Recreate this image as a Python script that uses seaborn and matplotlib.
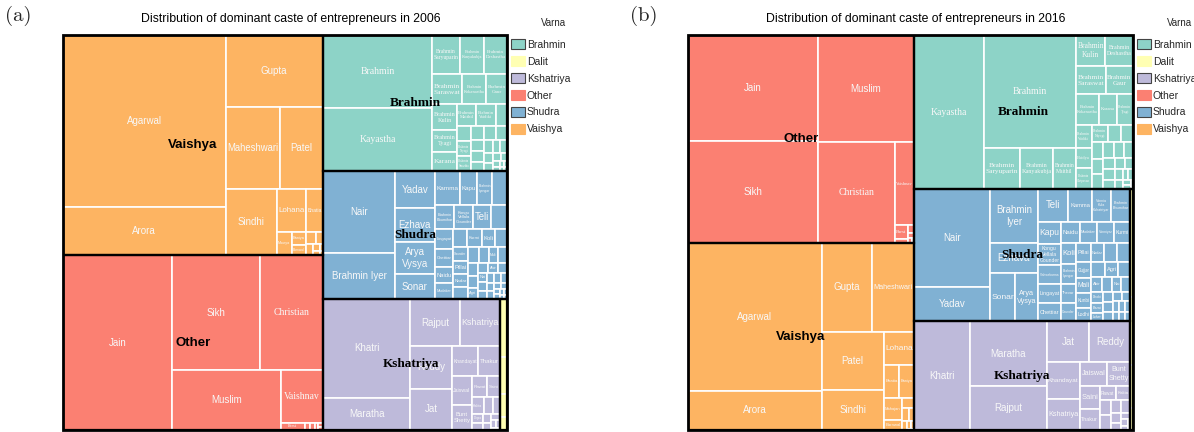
import matplotlib
matplotlib.use("Agg")
import matplotlib.pyplot as plt
import seaborn as sns
from matplotlib.patches import Rectangle, Patch

sns.set_theme(style="white")
plt.rcParams["font.family"] = ["Liberation Sans", "DejaVu Sans"]

# -------------------------------
# Data: entrepreneurs per caste (relative counts)
# -------------------------------
VARNAS = ["Brahmin", "Dalit", "Kshatriya", "Other", "Shudra", "Vaishya"]
YEARS = [2006, 2016]

brahmin_names = ["Brahmin", "Kayastha", "Brahmin Saryuparin", "Brahmin Kanyakubja",
                 "Brahmin Deshastha", "Brahmin Saraswat", "Brahmin Kokanastha", "Brahmin Gaur",
                 "Brahmin Kulin", "Brahmin Tyagi", "Karana", "Brahmin Vaidiki", "Brahmin Maithil",
                 "Baidya", "Brahmin Chitpavan", "Brahmin Niyogi", "Brahmin Smartha", "Brahmin Madhwa",
                 "Brahmin Havyaka", "Brahmin Nagar", "Brahmin Utkal", "Brahmin Dravida",
                 "Brahmin Sanadhya", "Brahmin Audichya", "Brahmin Pushkarna", "Brahmin Mohyal",
                 "Brahmin Bhatt", "Brahmin Goswami", "Brahmin Joshi", "Brahmin Pandit",
                 "Brahmin Sakaldwipi", "Brahmin Shrimali", "Brahmin Dadhich", "Brahmin Gurukkal",
                 "Brahmin Nambudiri", "Brahmin Tuluva"]
brahmin_2006 = [80, 68, 10.9, 9.4, 9.0, 9.0, 7.2, 6.3, 6.2, 5.5, 4.6, 4.0, 4.1,
                2.4, 2.2, 2.1, 2.0, 1.9, 1.8, 1.6, 1.5, 1.4, 1.2, 1.1, 1.0, 0.9, 0.8,
                0.7, 0.6, 0.5, 0.4, 0.3, 0.25, 0.2, 0.15, 0.1]
brahmin_2016 = [100, 105, 14.4, 13.3, 8.4, 8.0, 7.1, 7.3, 9.0, 4.9, 5.2, 3.5, 9.3,
                3.2, 3.2, 2.7, 2.2, 2.0, 1.9, 1.8, 1.7, 1.6, 1.5, 1.4, 1.3, 1.2, 1.1,
                1.0, 0.9, 0.8, 0.7, 0.6, 0.5, 0.4, 0.3, 0.2]

dalit_names = ["Chamar", "Mahar", "Jatav", "Valmiki"]
dalit_2006 = [4.0, 2.6, 1.6, 0.9]
dalit_2016 = [3.0, 1.9, 1.2, 0.6]

kshatriya_names = ["Khatri", "Maratha", "Rajput", "Kshatriya", "Reddy", "Jat", "Khandayat",
                   "Thakur", "Jaiswal", "Bunt Shetty", "Rawat", "Saini", "Kalita", "Chhetri",
                   "Kodava", "Dogra", "Rathore", "Bhati", "Chauhan", "Parmar", "Tomar",
                   "Sisodia", "Raju"]
kshatriya_2006 = [86, 28, 23.5, 18.8, 17.6, 17.2, 7.8, 6.6, 5.6, 5.0, 3.2, 2.7, 2.0, 1.5,
                  1.2, 1.0, 0.8, 0.7, 0.6, 0.5, 0.4, 0.3, 0.2]
kshatriya_2016 = [59.4, 48, 32.2, 10.2, 15.9, 16.8, 12.0, 4.0, 6.4, 5.5, 2.2, 4.3, 1.9, 1.7,
                  1.6, 1.3, 1.1, 0.9, 0.7, 0.6, 0.5, 0.3, 0.2]

other_names = ["Jain", "Sikh", "Christian", "Muslim", "Vaishnav", "Parsi", "Buddhist",
               "Bohra", "Khoja", "Memon", "Jewish"]
other_2006 = [190, 100, 72, 65, 22, 1.7, 0.4, 0.3, 0.25, 0.2, 0.15]
other_2016 = [134, 129, 75, 100, 15.6, 1.8, 0.6, 0.4, 0.3, 0.2, 0.1]

shudra_names = ["Nair", "Brahmin Iyer", "Yadav", "Ezhava", "Arya Vysya", "Sonar", "Kamma",
                "Kapu", "Brahmin Iyengar", "Vannia Kula Kshatriyar", "Brahmin Bhumihar",
                "Kongu Vellala Gounder", "Teli", "Vishwakarma", "Lingayat", "Chettiar", "Naidu",
                "Mudaliar", "Vanniyar", "Kurmi", "Koli", "Thevar", "Gounder", "Pillai", "Nadar",
                "Vokkaliga", "Kushwaha", "Gujjar", "Mali", "Kunbi", "Lodhi", "Ezhuthachan",
                "Agri", "Bhandari", "Ahir", "Kalar", "Nai", "Kumhar", "Dhobi", "Barai", "Lohar",
                "Sutar", "Gadaria", "Kahar", "Tamboli", "Kachhi", "Mallah", "Halwai", "Jogi",
                "Darzi", "Bhoi", "Kamar"]
shudra_2006 = [59, 33, 14.8, 13.3, 12.9, 9.8, 8.6, 5.9, 5.3, 5.0, 4.6, 4.6, 4.1, 3.9,
               3.5, 3.2, 3.0, 2.8, 2.6, 2.5, 2.3, 2.2, 2.1, 2.0, 1.9, 1.8, 1.7, 1.6, 1.5,
               1.4, 1.3, 1.2, 1.1, 1.0, 0.95, 0.9, 0.85, 0.8, 0.75, 0.7, 0.65, 0.6, 0.55,
               0.5, 0.45, 0.4, 0.35, 0.3, 0.25, 0.2, 0.15, 0.1]
shudra_2016 = [72, 25.2, 25.3, 14.2, 10.6, 11.9, 7.4, 4.9, 3.0, 6.2, 6.0, 4.6, 9.6, 4.4,
               4.2, 4.0, 3.8, 3.6, 3.4, 3.3, 3.2, 2.9, 2.8, 2.7, 2.6, 2.5, 2.4, 2.3, 2.2,
               2.1, 2.0, 1.9, 1.8, 1.7, 1.6, 1.5, 1.4, 1.3, 1.2, 1.1, 1.0, 0.95, 0.9, 0.85,
               0.8, 0.75, 0.7, 0.65, 0.6, 0.55, 0.5, 0.45]

vaishya_names = ["Agarwal", "Arora", "Gupta", "Maheshwari", "Patel", "Sindhi", "Lohana",
                 "Bhatia", "Baniya", "Maurya", "Barnwal", "Mahajan", "Khandelwal", "Oswal",
                 "Porwal", "Rastogi", "Modh", "Vaish"]
vaishya_2006 = [279, 78, 70, 44, 35, 34, 12.5, 7.3, 2.0, 3.6, 1.5, 1.2, 0.9, 0.7, 0.5,
                0.3, 0.2, 0.15]
vaishya_2016 = [191, 51, 43, 36, 35, 24.4, 9.7, 5.0, 4.8, 1.2, 1.8, 3.9, 0.9, 0.6, 0.4,
                0.3, 0.2, 0.1]

NAMES = {"Brahmin": brahmin_names, "Dalit": dalit_names, "Kshatriya": kshatriya_names,
         "Other": other_names, "Shudra": shudra_names, "Vaishya": vaishya_names}
VALUES = {
    2006: {"Brahmin": brahmin_2006, "Dalit": dalit_2006, "Kshatriya": kshatriya_2006,
           "Other": other_2006, "Shudra": shudra_2006, "Vaishya": vaishya_2006},
    2016: {"Brahmin": brahmin_2016, "Dalit": dalit_2016, "Kshatriya": kshatriya_2016,
           "Other": other_2016, "Shudra": shudra_2016, "Vaishya": vaishya_2016},
}

PALETTE = dict(zip(VARNAS, sns.color_palette("Set3", 6)))
SERIF_GROUPS = {"Brahmin", "Shudra", "Kshatriya"}
SERIF_LABELS = {"Christian", "Vaishnav", "Parsi"}

# the original layout was computed on a slightly wider canvas
STRETCH = 1.155


# -------------------------------
# Pivot-by-size treemap layout
# -------------------------------
def aspect(w, h):
    if w <= 1e-9 or h <= 1e-9:
        return 1e9
    return max(w / h, h / w)


def pivot_layout(sizes, x, y, w, h, balanced=False):
    n = len(sizes)
    if n == 0:
        return []
    if n == 1:
        return [(x, y, w, h)]
    total = float(sum(sizes))
    p = sizes[0]
    rest = sizes[1:]
    wide = w * STRETCH >= h
    sx = 1.0 if balanced else STRETCH
    best_k, best_s = 0, None
    for k in range(len(rest) + 1):
        a = p + sum(rest[:k])
        if wide:
            cw = w * a / total
            rp = (cw * sx, h * p / a)
            r3 = ((w - cw) * sx, h)
        else:
            ch = h * a / total
            rp = (w * sx * p / a, ch)
            r3 = (w * sx, h - ch)
        s = aspect(*rp)
        if balanced and len(rest) - k > 1:
            s = (2 * s + aspect(*r3)) / 3
        if best_s is None or s < best_s:
            best_k, best_s = k, s
    k = best_k
    l2, l3 = rest[:k], rest[k:]
    a = p + sum(l2)
    if wide:
        cw = w * a / total
        ph = h * p / a
        out = [(x, y, cw, ph)]
        out += pivot_layout(l2, x, y + ph, cw, h - ph, balanced)
        out += pivot_layout(l3, x + cw, y, w - cw, h, balanced)
    else:
        ch = h * a / total
        pw = w * p / a
        out = [(x, y, pw, ch)]
        out += pivot_layout(l2, x + pw, y, w - pw, ch, balanced)
        out += pivot_layout(l3, x, y + ch, w, h - ch, balanced)
    return out


def label_options(name):
    words = name.split()
    opts = [name]
    for i in range(1, len(words)):
        opts.append(" ".join(words[:i]) + "\n" + " ".join(words[i:]))
    if len(words) > 2:
        opts.append("\n".join(words))
    return opts


def fit_label(ax, renderer, name, x, y, w, h, family, base=7.0, min_fs=2.2):
    best = None
    for s in label_options(name):
        t = ax.text(0, 0, s, fontsize=base, family=family, linespacing=1.25)
        bb = t.get_window_extent(renderer)
        t.remove()
        sc = min(1.0, (w - 3) / bb.width, (h - 3) / bb.height)
        if best is None or sc > best[0] + 1e-6:
            best = (sc, s)
    sc, s = best
    fs = base * sc
    if fs < min_fs:
        return
    ax.text(x + w / 2, y + h / 2, s, fontsize=fs, family=family, color="#f8f8f8",
            ha="center", va="center", linespacing=1.25, zorder=4)


# -------------------------------
# Figure
# -------------------------------
fig = plt.figure(figsize=(11.94, 4.32), dpi=100)
renderer = fig.canvas.get_renderer()
FW, FH = 1194.0, 432.0
PANEL_TOP, PANEL_H = 35.0, 395.0
panels = [("(a)", 2006, 63.0, 444.0), ("(b)", 2016, 688.0, 445.0)]

for tag, year, left, W in panels:
    ax = fig.add_axes([left / FW, 1 - (PANEL_TOP + PANEL_H) / FH, W / FW, PANEL_H / FH])
    ax.set_xlim(0, W)
    ax.set_ylim(PANEL_H, 0)
    ax.axis("off")

    vals = VALUES[year]
    totals = {v: sum(vals[v]) for v in VARNAS}
    order = sorted(VARNAS, key=lambda v: -totals[v])
    groups = pivot_layout([totals[v] for v in order], 0, 0, W, PANEL_H, balanced=True)

    for varna, (gx, gy, gw, gh) in zip(order, groups):
        names = NAMES[varna]
        v = vals[varna]
        idx = sorted(range(len(v)), key=lambda i: -v[i])
        cells = pivot_layout([v[i] for i in idx], gx, gy, gw, gh)
        for i, (x, y, w, h) in zip(idx, cells):
            ax.add_patch(Rectangle((x, y), w, h, facecolor=PALETTE[varna],
                                   edgecolor="white", lw=1.2, zorder=1))
            if varna == "Brahmin" or names[i] in SERIF_LABELS:
                fam = ["Liberation Serif", "DejaVu Serif"]
            else:
                fam = ["Liberation Sans", "DejaVu Sans"]
            fit_label(ax, renderer, names[i], x, y, w, h, fam)
        ax.add_patch(Rectangle((gx, gy), gw, gh, fill=False, edgecolor="black",
                               lw=1.6, zorder=3))
        if gw > 30 and gh > 20:
            fam = ["Liberation Serif", "DejaVu Serif"] if varna in SERIF_GROUPS \
                else ["Liberation Sans", "DejaVu Sans"]
            ax.text(gx + gw / 2, gy + gh / 2, varna, fontsize=9.5, fontweight="bold",
                    family=fam, color="black", ha="center", va="center", zorder=5)

    ax.add_patch(Rectangle((0, 0), W, PANEL_H, fill=False, edgecolor="black",
                           lw=2.0, zorder=6, clip_on=False))

    fig.text((left + 228) / FW, 1 - 19 / FH,
             "Distribution of dominant caste of entrepreneurs in %d" % year,
             fontsize=8.8, ha="center", va="center", color="black")
    fig.text((left - 58) / FW, 1 - 16 / FH, tag, family="cmr10", fontsize=15,
             ha="left", va="center")

    lx = left + W + 4
    fig.text((lx + 43) / FW, 1 - 23 / FH, "Varna", fontsize=7, ha="center", va="center")
    edge = {"Brahmin": "#444444", "Kshatriya": "#444444", "Shudra": "#444444"}
    handles = [Patch(facecolor=PALETTE[v], edgecolor=edge.get(v, PALETTE[v]), lw=0.8)
               for v in VARNAS]
    fig.legend(handles, VARNAS, loc="upper left",
               bbox_to_anchor=(lx / FW, 1 - 39 / FH), frameon=False, fontsize=7.5,
               handlelength=1.35, handleheight=1.15, handletextpad=0.15,
               labelspacing=0.6, borderpad=0, borderaxespad=0)

fig.savefig("out.png", dpi=100)
